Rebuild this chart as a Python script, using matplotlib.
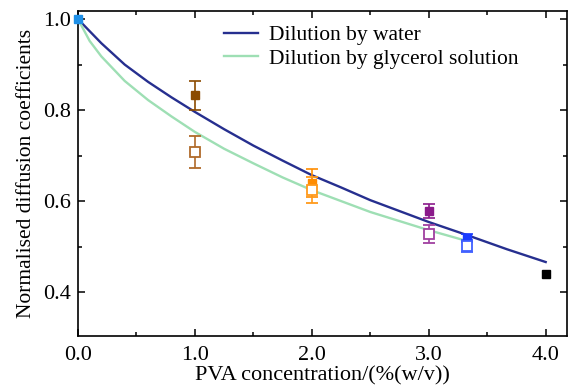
import matplotlib
matplotlib.use('Agg')
import matplotlib.pyplot as plt
from matplotlib.ticker import MultipleLocator

plt.rcParams['font.family'] = ['Liberation Serif', 'DejaVu Serif']
plt.rcParams['mathtext.fontset'] = 'stix'

# model curves
conc_water = [0, 0.2, 0.4, 0.6, 0.8, 1.0, 1.25, 1.5, 1.75, 2.0, 2.25, 2.5, 2.75, 3.0, 3.33, 3.67, 4.0]
d_water = [1.0, 0.947, 0.900, 0.862, 0.828, 0.796, 0.758, 0.722, 0.689, 0.657, 0.630, 0.602, 0.578, 0.554, 0.525, 0.494, 0.466]
conc_gly = [0, 0.1, 0.2, 0.4, 0.6, 0.8, 1.0, 1.25, 1.5, 1.75, 2.0, 2.25, 2.5, 2.75, 3.0, 3.33]
d_gly = [1.0, 0.952, 0.918, 0.864, 0.822, 0.786, 0.752, 0.715, 0.683, 0.652, 0.624, 0.600, 0.576, 0.556, 0.536, 0.512]

# measured points (filled = water dilution, open = glycerol dilution)
pt_conc = [0.0, 1.0, 2.0, 3.0, 3.33, 4.0]
pt_colors = ['#1e90e8', '#8b4a00', '#ff8c00', '#8b1a8b', '#1a3cff', '#000000']
filled_val = [1.0, 0.833, 0.640, 0.578, 0.518, 0.440]
filled_err = [0, 0.032, 0.030, 0.016, 0.009, 0]
open_conc = [1.0, 2.0, 3.0, 3.33]
open_colors = ['#b06a2a', '#ff9a1a', '#a040a0', '#4060ff']
open_val = [0.708, 0.624, 0.527, 0.501]
open_err = [0.036, 0.028, 0.020, 0.014]

fig, ax = plt.subplots(figsize=(5.69, 3.90), dpi=100)
fig.subplots_adjust(left=0.137, right=0.996, bottom=0.138, top=0.972)

ax.plot(conc_water, d_water, color='#262f8f', lw=1.7, label='Dilution by water')
ax.plot(conc_gly, d_gly, color='#9edfb4', lw=1.7, label='Dilution by glycerol solution')

for x, y, e, c in zip(pt_conc, filled_val, filled_err, pt_colors):
    ax.errorbar(x, y, yerr=e if e > 0 else None, fmt='s', color=c, ms=6,
                capsize=4, elinewidth=1.2, capthick=1.2, clip_on=False, zorder=3)
for x, y, e, c in zip(open_conc, open_val, open_err, open_colors):
    ax.errorbar(x, y, yerr=e, fmt='s', color=c, mfc='white', mec=c, ms=7, mew=1.3,
                capsize=4, elinewidth=1.2, capthick=1.2, zorder=3)

ax.set_xlim(0, 4.18)
ax.set_ylim(0.303, 1.018)
ax.xaxis.set_major_locator(MultipleLocator(1.0))
ax.xaxis.set_minor_locator(MultipleLocator(0.5))
ax.yaxis.set_major_locator(MultipleLocator(0.2))
ax.yaxis.set_minor_locator(MultipleLocator(0.1))
ax.xaxis.set_major_formatter(plt.FormatStrFormatter('%.1f'))
ax.yaxis.set_major_formatter(plt.FormatStrFormatter('%.1f'))
ax.tick_params(which='both', direction='in', top=True, right=True, labelsize=16, width=1.1)
ax.tick_params(which='major', length=5, pad=5)
ax.tick_params(axis='x', which='major', pad=7)
ax.tick_params(which='minor', length=3)
for s in ax.spines.values():
    s.set_linewidth(1.2)

ax.set_xlabel('PVA concentration/(%(w/v))', fontsize=16, labelpad=1)
ax.set_ylabel('Normalised diffusion coefficients', fontsize=15.5, labelpad=5)

ax.legend(loc='upper center', bbox_to_anchor=(0.60, 1.015), frameon=False, fontsize=15.5,
          handlelength=1.6, handletextpad=0.5, labelspacing=0.15)

fig.savefig('out.png', dpi=100)
